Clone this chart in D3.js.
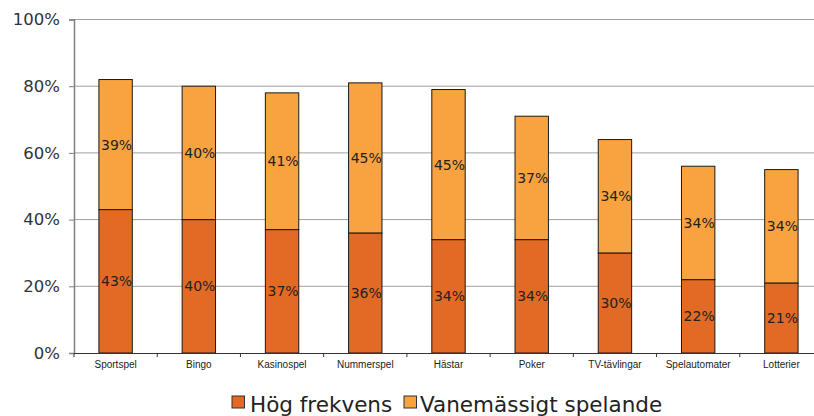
<!DOCTYPE html>
<html><head><meta charset="utf-8">
<script src="https://cdn.jsdelivr.net/npm/d3@7"></script>
<style>body{margin:0;background:#fff}svg{display:block}</style>
</head><body><svg id="c" width="814" height="416"></svg>
<script>
const categories = ["Sportspel","Bingo","Kasinospel","Nummerspel","Hästar","Poker","TV-tävlingar","Spelautomater","Lotterier"];
const hogFrekvens = [43,40,37,36,34,34,30,22,21];
const vanemassigt = [39,40,41,45,45,37,34,34,34];
const seriesNames = ["Hög frekvens","Vanemässigt spelande"];
const colors = ["#E36A24","#F9A340"];
const yTicks = [0,20,40,60,80,100];

const svg = d3.select("#c");
const mLeft = 74, mRight = 823, mTop = 19.5, mBottom = 353;
const xb = d3.scaleBand().domain(categories).range([mLeft,mRight]);
const y = d3.scaleLinear().domain([0,100]).range([mBottom,mTop]);

// gridlines
svg.append("g").selectAll("line").data(yTicks.filter(d=>d>0)).join("line")
  .attr("x1",mLeft).attr("x2",mRight).attr("y1",d=>y(d)).attr("y2",d=>y(d))
  .attr("stroke","#a0a0a0").attr("stroke-width",1);

// y axis
const ya = svg.append("g").attr("transform",`translate(${mLeft},0)`)
  .call(d3.axisLeft(y).tickValues(yTicks).tickFormat(d=>d+"%").tickSize(5).tickPadding(9));
ya.select(".domain").attr("stroke","#808080").attr("stroke-width",1.5);
ya.selectAll(".tick line").attr("stroke","#808080");
ya.selectAll("text").attr("font-family","DejaVu Sans").attr("font-size",16.5).attr("fill","#333");

// bars
const stacked = categories.map((c,i)=>({c, segs:[{s:0,v0:0,v1:hogFrekvens[i],val:hogFrekvens[i]},{s:1,v0:hogFrekvens[i],v1:hogFrekvens[i]+vanemassigt[i],val:vanemassigt[i]}]}));
const bw = 33.4;
const g = svg.append("g");
stacked.forEach(d=>{
  const cx = xb(d.c)+xb.bandwidth()/2;
  d.segs.forEach(s=>{
    g.append("rect").attr("x",cx-bw/2).attr("width",bw)
      .attr("y",y(s.v1)).attr("height",y(s.v0)-y(s.v1))
      .attr("fill",colors[s.s]).attr("stroke","#1a1a1a").attr("stroke-width",1);
  });
  d.segs.forEach(s=>{
    g.append("text").attr("x",cx+1).attr("y",(y(s.v0)+y(s.v1))/2+5)
      .attr("text-anchor","middle").attr("font-family","DejaVu Sans").attr("font-size",14)
      .attr("fill","#222").text(s.val+"%");
  });
});

// x axis
const xa = svg.append("g").attr("transform",`translate(0,${mBottom})`)
  .call(d3.axisBottom(xb).tickSize(0).tickPadding(0));
xa.select(".domain").attr("stroke","#333").attr("stroke-width",1.2);
xa.selectAll(".tick text").attr("font-family","Liberation Sans").attr("font-size",10).attr("fill","#222").attr("dy",null).attr("y",15);
svg.append("g").selectAll("line").data(categories.map(c=>xb(c)).concat([mRight])).join("line")
  .attr("x1",d=>d).attr("x2",d=>d).attr("y1",mBottom).attr("y2",mBottom+4).attr("stroke","#333");

// legend
const leg = [{x:232,tx:250},{x:404,tx:420}];
seriesNames.forEach((n,i)=>{
  svg.append("rect").attr("x",leg[i].x).attr("y",396).attr("width",12.5).attr("height",12)
    .attr("fill",colors[i]).attr("stroke","#333").attr("stroke-width",1);
  svg.append("text").attr("x",leg[i].tx).attr("y",412).attr("font-family","DejaVu Sans").attr("font-size",21.5)
    .attr("fill","#222").text(n);
});
</script></body></html>
